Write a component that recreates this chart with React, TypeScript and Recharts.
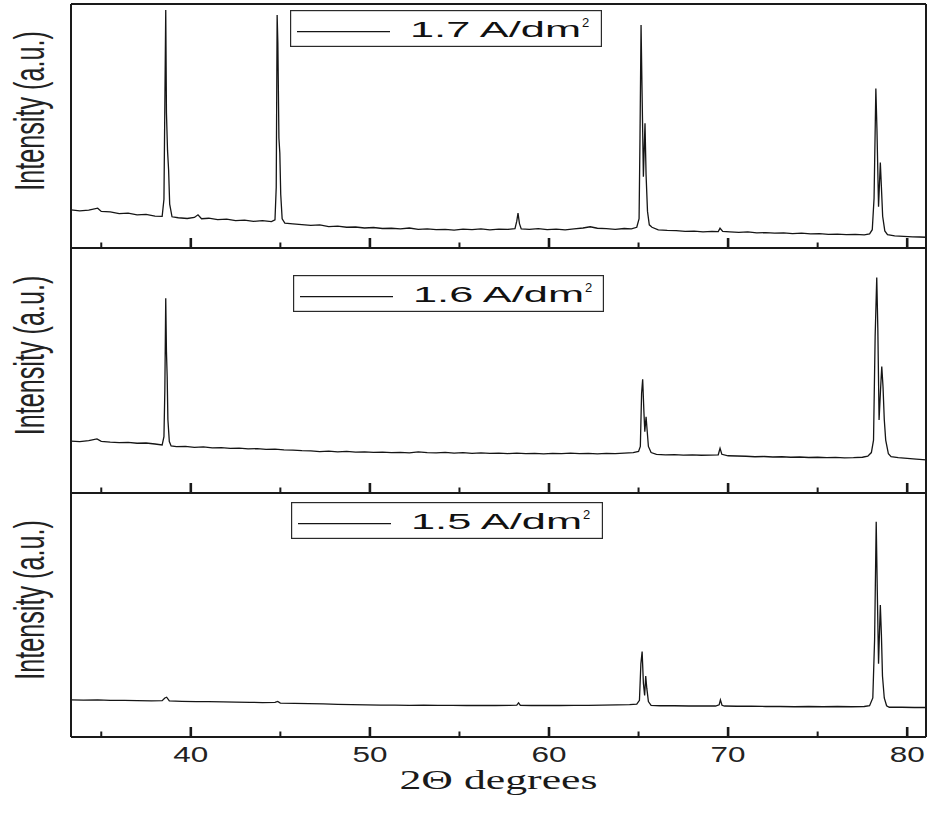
import React from 'react';
import { LineChart, Line, XAxis, YAxis, Legend } from 'recharts';

// ---- axis / label data ----
const X_DOMAIN: [number, number] = [33.31, 81.05];
const X_TICKS = [35, 40, 45, 50, 55, 60, 65, 70, 75, 80];
const Y_DOMAIN: [number, number] = [0, 1000];
const SERIES_NAMES = ['1.7 A/dm', '1.6 A/dm', '1.5 A/dm'];
const Y_TITLE = 'Intensity (a.u.)';
const X_TITLE = '2\u0398 degrees';

// ---- diffraction patterns: [2theta, intensity] ----
const pattern17: [number, number][] = [
  [33.3, 156], [33.8, 152], [34.3, 155], [34.8, 163], [35.0, 150], [35.5, 148], [36.0, 141], [36.5, 143],
  [37.0, 136], [37.5, 138], [38.0, 131], [38.4, 130],
  [38.5, 200], [38.6, 975], [38.64, 553], [38.7, 400], [38.76, 320], [38.82, 180], [38.95, 128],
  [39.3, 124], [39.8, 121], [40.2, 125], [40.4, 136], [40.6, 120], [41.0, 122], [41.5, 116], [42.0, 118],
  [42.5, 112], [43.0, 114], [43.5, 109], [44.0, 112], [44.5, 108], [44.7, 115],
  [44.77, 250], [44.82, 955], [44.86, 839], [44.92, 450], [44.97, 389], [45.02, 220], [45.1, 120], [45.25, 102],
  [45.7, 99], [46.2, 96], [46.7, 93], [47.2, 95], [47.7, 88], [48.2, 90], [48.7, 85], [49.2, 86], [49.7, 82],
  [50.2, 84], [50.7, 80], [51.2, 81], [51.7, 78], [52.2, 82], [52.7, 76], [53.2, 78], [53.7, 75], [54.2, 76],
  [54.7, 73], [55.2, 77], [55.7, 75], [56.2, 78], [56.7, 74], [57.2, 77], [57.7, 76], [58.1, 79],
  [58.2, 110], [58.27, 143], [58.35, 100], [58.45, 78],
  [58.9, 76], [59.4, 79], [59.9, 75], [60.4, 77], [60.9, 74], [61.4, 78], [61.9, 82], [62.3, 87], [62.7, 81],
  [63.2, 79], [63.7, 76], [64.2, 80], [64.6, 78], [64.9, 85],
  [65.03, 120], [65.08, 450], [65.14, 914], [65.19, 668], [65.27, 292], [65.36, 511], [65.42, 300], [65.5, 150],
  [65.6, 95], [65.75, 85],
  [66.1, 74], [66.6, 72], [67.1, 71], [67.6, 68], [68.1, 69], [68.6, 66], [69.1, 68], [69.45, 67], [69.55, 81],
  [69.7, 68], [70.1, 66], [70.6, 64], [71.1, 66], [71.6, 62], [72.1, 63], [72.6, 61], [73.1, 62], [73.6, 59],
  [74.1, 61], [74.6, 58], [75.1, 59], [75.6, 56], [76.1, 57], [76.6, 55], [77.1, 56], [77.6, 54], [77.9, 58],
  [78.05, 75], [78.15, 204], [78.25, 654], [78.31, 491], [78.4, 169], [78.5, 350], [78.56, 250], [78.63, 130],
  [78.75, 70], [78.9, 55],
  [79.3, 50], [79.8, 48], [80.3, 46], [80.7, 45], [81.05, 44],
];

const pattern16: [number, number][] = [
  [33.3, 212], [33.8, 210], [34.3, 214], [34.76, 221], [35.0, 211], [35.5, 208], [36.0, 206], [36.5, 207],
  [37.0, 203], [37.5, 204], [38.0, 200], [38.4, 196],
  [38.5, 230], [38.55, 420], [38.6, 795], [38.64, 577], [38.68, 475], [38.72, 300], [38.8, 210], [38.9, 192],
  [39.2, 189], [39.7, 190], [40.2, 186], [40.7, 188], [41.2, 184], [41.7, 185], [42.2, 182], [42.7, 183],
  [43.2, 180], [43.7, 181], [44.2, 178], [44.7, 179], [45.2, 176], [45.7, 175], [46.2, 173], [46.7, 172],
  [47.2, 169], [47.7, 171], [48.2, 168], [48.7, 170], [49.2, 167], [49.7, 168], [50.2, 166], [50.7, 167],
  [51.2, 165], [51.7, 166], [52.2, 164], [52.7, 168], [53.2, 165], [53.7, 164], [54.2, 166], [54.7, 163],
  [55.2, 165], [55.7, 162], [56.2, 164], [56.7, 162], [57.2, 163], [57.7, 161], [58.2, 163], [58.7, 161],
  [59.2, 162], [59.7, 160], [60.2, 162], [60.7, 161], [61.2, 163], [61.7, 161], [62.2, 162], [62.7, 160],
  [63.2, 162], [63.7, 161], [64.2, 163], [64.7, 165], [65.0, 170],
  [65.1, 190], [65.17, 407], [65.23, 464], [65.3, 330], [65.35, 250], [65.42, 311], [65.47, 264], [65.55, 190],
  [65.7, 165],
  [66.0, 158], [66.5, 156], [67.0, 157], [67.5, 155], [68.0, 156], [68.5, 154], [69.0, 155], [69.45, 156],
  [69.55, 182], [69.65, 158],
  [70.0, 152], [70.5, 151], [71.0, 150], [71.5, 148], [72.0, 149], [72.5, 147], [73.0, 148], [73.5, 146],
  [74.0, 147], [74.5, 145], [75.0, 146], [75.5, 144], [76.0, 145], [76.5, 143], [77.0, 144], [77.5, 146],
  [77.8, 150],
  [78.0, 165], [78.12, 216], [78.21, 638], [78.3, 880], [78.36, 672], [78.43, 298], [78.52, 434], [78.58, 516],
  [78.65, 434], [78.72, 300], [78.8, 216], [78.95, 160], [79.1, 148],
  [79.5, 144], [80.0, 141], [80.5, 138], [81.05, 135],
];

const pattern15: [number, number][] = [
  [33.3, 152], [34.0, 151], [34.8, 152], [35.5, 150], [36.3, 150], [37.0, 149], [37.8, 148], [38.4, 149],
  [38.55, 160], [38.65, 163], [38.8, 148],
  [39.5, 146], [40.3, 145], [41.0, 145], [41.8, 144], [42.5, 143], [43.3, 142], [44.0, 141], [44.7, 142],
  [44.85, 146], [45.0, 139],
  [45.8, 138], [46.6, 137], [47.4, 136], [48.2, 134], [49.0, 133], [49.8, 132], [50.6, 131], [51.4, 131],
  [52.2, 130], [53.0, 131], [53.8, 130], [54.6, 130], [55.4, 129], [56.2, 130], [57.0, 129], [57.8, 130],
  [58.2, 131], [58.3, 140], [58.4, 130],
  [59.0, 129], [59.8, 130], [60.6, 129], [61.4, 130], [62.2, 130], [63.0, 131], [63.8, 132], [64.5, 133],
  [64.9, 135],
  [65.05, 150], [65.13, 300], [65.2, 350], [65.27, 220], [65.34, 170], [65.4, 250], [65.46, 200], [65.55, 145],
  [65.7, 130],
  [66.2, 128], [67.0, 128], [67.8, 127], [68.6, 127], [69.3, 127], [69.5, 132], [69.57, 152], [69.66, 130],
  [69.8, 127],
  [70.5, 126], [71.3, 126], [72.1, 125], [72.9, 125], [73.7, 124], [74.5, 125], [75.3, 124], [76.1, 125],
  [76.9, 124], [77.6, 125], [77.9, 128],
  [78.08, 160], [78.18, 400], [78.27, 882], [78.33, 600], [78.4, 300], [78.5, 541], [78.56, 420], [78.62, 250],
  [78.72, 160], [78.85, 128], [79.0, 122],
  [79.7, 122], [80.4, 121], [81.05, 121],
];

const toRows = (p: [number, number][]) => p.map(([x, y]) => ({ x, y }));

const INK = '#151515';
const FRAME = '#1a1a1a';
const SANS = "'Liberation Sans', Arial, sans-serif";
const SERIF = "'Liberation Serif', 'Times New Roman', serif";

const makeTick = (withLabels: boolean) => (props: any) => {
  const { x, y, payload } = props;
  const v = payload.value as number;
  const major = v % 10 === 0;
  return (
    <g>
      <line x1={x} x2={x} y1={y} y2={y - (major ? 10 : 5.5)} stroke={FRAME} strokeWidth={major ? 2.6 : 2} />
      {withLabels && major ? (
        <text
          x={x}
          y={y + 25}
          textAnchor="middle"
          fontFamily={SANS}
          fontSize={22}
          textLength={35}
          lengthAdjust="spacingAndGlyphs"
          fill="#222"
        >
          {v}
        </text>
      ) : null}
    </g>
  );
};

const yTitle = (props: any) => {
  const vb = props.viewBox || {};
  const cy = (vb.y ?? 0) + (vb.height ?? 244) / 2 - 15;
  return (
    <text
      transform={`translate(44, ${cy}) rotate(-90) scale(0.6, 1)`}
      textAnchor="middle"
      fontFamily={SANS}
      fontSize={42}
      fill="#222"
    >
      {Y_TITLE}
    </text>
  );
};

const xTitle = (props: any) => {
  const vb = props.viewBox || {};
  const cx = (vb.x ?? 71) + (vb.width ?? 855) / 2;
  const y = (vb.y ?? 244) + 52;
  return (
    <text
      x={cx}
      y={y}
      textAnchor="middle"
      fontFamily={SERIF}
      fontSize={27}
      textLength={198}
      lengthAdjust="spacingAndGlyphs"
      fill="#1a1a1a"
    >
      {X_TITLE}
    </text>
  );
};

const legendContent = (width: number) => (props: any) => {
  const name = props?.payload?.[0]?.value ?? '';
  return (
    <svg width={width} height={37} style={{ display: 'block', overflow: 'visible' }}>
      <rect x={0.6} y={0.6} width={width - 1.2} height={35.8} fill="#fff" stroke="#2a2a2a" strokeWidth={1.2} />
      <line x1={7} x2={100} y1={21.7} y2={21.7} stroke={INK} strokeWidth={1.2} />
      <text
        x={120}
        y={26.5}
        fontFamily={SANS}
        fontSize={22}
        textLength={171}
        lengthAdjust="spacingAndGlyphs"
        fill="#111"
      >
        {name}
      </text>
      <text x={292} y={17} fontFamily={SANS} fontSize={13} fill="#111">
        2
      </text>
    </svg>
  );
};

type PanelProps = {
  data: [number, number][];
  name: string;
  top: number;
  height: number;
  marginTop: number;
  marginBottom: number;
  legendLeft: number;
  legendTop: number;
  legendWidth: number;
  bottomLabels: boolean;
};

function Panel(p: PanelProps) {
  return (
    <div style={{ position: 'absolute', left: 0, top: p.top, width: 931, height: p.height }}>
      <LineChart
        width={931}
        height={p.height}
        data={toRows(p.data)}
        margin={{ top: p.marginTop, right: 4, bottom: p.marginBottom, left: 70 }}
      >
        <XAxis
          dataKey="x"
          type="number"
          domain={X_DOMAIN}
          allowDataOverflow
          ticks={X_TICKS}
          interval={0}
          height={1}
          tickSize={0}
          tickMargin={0}
          tickLine={false}
          axisLine={{ stroke: FRAME, strokeWidth: 2 }}
          tick={makeTick(p.bottomLabels)}
          label={p.bottomLabels ? xTitle : undefined}
        />
        <XAxis
          xAxisId="top"
          orientation="top"
          dataKey="x"
          type="number"
          domain={X_DOMAIN}
          allowDataOverflow
          height={1}
          tick={false}
          tickLine={false}
          axisLine={{ stroke: FRAME, strokeWidth: 2 }}
        />
        <YAxis
          type="number"
          domain={Y_DOMAIN}
          allowDataOverflow
          width={1}
          tick={false}
          tickLine={false}
          axisLine={{ stroke: FRAME, strokeWidth: 2 }}
          label={yTitle}
        />
        <YAxis
          yAxisId="right"
          orientation="right"
          type="number"
          domain={Y_DOMAIN}
          width={1}
          tick={false}
          tickLine={false}
          axisLine={{ stroke: FRAME, strokeWidth: 2 }}
        />
        <Legend
          layout="horizontal"
          verticalAlign="middle"
          align="center"
          content={legendContent(p.legendWidth)}
          wrapperStyle={{ left: p.legendLeft, top: p.legendTop, width: p.legendWidth, height: 37 }}
        />
        <Line
          type="linear"
          dataKey="y"
          name={p.name}
          stroke={INK}
          strokeWidth={1.3}
          dot={false}
          activeDot={false}
          isAnimationActive={false}
        />
      </LineChart>
    </div>
  );
}

export default function App() {
  return (
    <div style={{ position: 'absolute', left: 0, top: 0, width: 931, height: 816, background: '#fff', overflow: 'hidden' }}>
      <Panel data={pattern17} name={SERIES_NAMES[0]} top={0} height={249} marginTop={3} marginBottom={0}
        legendLeft={290} legendTop={10} legendWidth={312} bottomLabels={false} />
      <Panel data={pattern16} name={SERIES_NAMES[1]} top={247} height={247} marginTop={0} marginBottom={0}
        legendLeft={293} legendTop={28} legendWidth={311} bottomLabels={false} />
      <Panel data={pattern15} name={SERIES_NAMES[2]} top={492} height={324} marginTop={0} marginBottom={78}
        legendLeft={291} legendTop={10} legendWidth={312} bottomLabels={true} />
    </div>
  );
}
